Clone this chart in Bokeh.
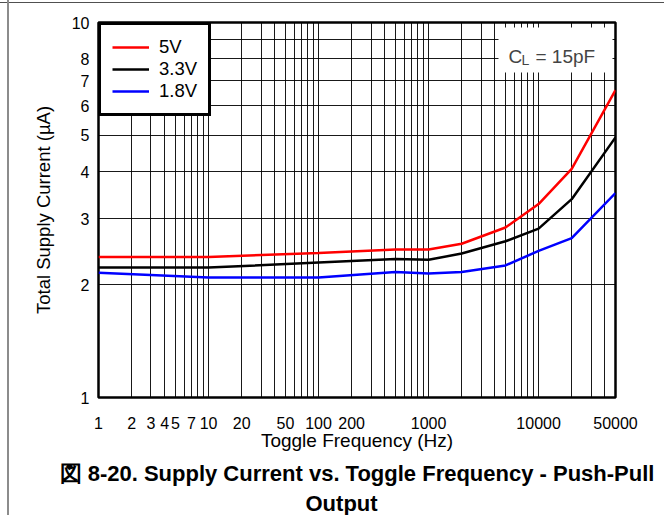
from bokeh.plotting import figure
from bokeh.models import (Range1d, FixedTicker, Legend, LegendItem, Label,
                          BoxAnnotation, Title)
from bokeh.embed import file_html
from bokeh.resources import INLINE

# ---- data ----
freq_hz = [1, 10, 100, 500, 1000, 2000, 5000, 10000, 20000, 50000]
current_5v = [2.37, 2.37, 2.43, 2.48, 2.48, 2.57, 2.84, 3.28, 4.07, 6.6]
current_3v3 = [2.22, 2.22, 2.29, 2.34, 2.33, 2.42, 2.61, 2.82, 3.38, 4.94]
current_1v8 = [2.15, 2.09, 2.09, 2.16, 2.14, 2.16, 2.25, 2.46, 2.66, 3.51]

series_labels = ["5V", "3.3V", "1.8V"]
series_colors = ["#ff0000", "#000000", "#0000ff"]

x_tick_values = [1, 2, 3, 4, 5, 7, 10, 20, 50, 100, 200, 1000, 10000, 50000]
x_tick_labels = ["1", "2", "3", "4", "5", "7", "10", "20", "50", "100", "200",
                 "1000", "10000", "50000"]
y_tick_values = [1, 2, 3, 4, 5, 6, 7, 8, 10]
y_tick_labels = ["1", "2", "3", "4", "5", "6", "7", "8", "10"]

x_grid = [m * 10 ** k for k in range(5) for m in range(1, 10) if m * 10 ** k < 50000]
y_grid = [2, 3, 4, 5, 6, 7, 8, 9]

x_title = "Toggle Frequency (Hz)"
y_title = "Total Supply Current (\u00b5A)"
caption_1 = "\u56f3 8-20. Supply Current vs. Toggle Frequency - Push-Pull"
caption_2 = "Output"

FONT = "Liberation Sans"

p = figure(width=664, height=515, x_axis_type="log", y_axis_type="log",
           x_range=Range1d(1, 50000), y_range=Range1d(1, 10),
           output_backend="svg", toolbar_location=None, title=None,
           min_border_left=98, min_border_right=49, min_border_top=22,
           min_border_bottom=118)

# page rules (gray lines at left and top of the page)
p.border_fill_alpha = 0
p.styles = {
    "background": ("linear-gradient(to right, rgba(0,0,0,0) 7px, #8c8c8c 7px, "
                   "#8c8c8c 9px, rgba(0,0,0,0) 9px), "
                   "linear-gradient(to bottom, rgba(0,0,0,0) 2px, #505050 2px, "
                   "#505050 3.5px, rgba(0,0,0,0) 3.5px), #ffffff"),
}

p.outline_line_color = "black"
p.outline_line_width = 2.5
p.outline_line_alpha = 1

# grids
p.xgrid.ticker = FixedTicker(ticks=x_grid)
p.ygrid.ticker = FixedTicker(ticks=y_grid)
for g in (p.xgrid, p.ygrid):
    g.grid_line_color = "black"
    g.grid_line_width = 1
    g.grid_line_alpha = 0.9

# axes
p.xaxis.ticker = FixedTicker(ticks=x_tick_values)
p.xaxis.major_label_overrides = dict(zip(x_tick_values, x_tick_labels))
p.yaxis.ticker = FixedTicker(ticks=y_tick_values)
p.yaxis.major_label_overrides = dict(zip(y_tick_values, y_tick_labels))
for ax in (p.xaxis, p.yaxis):
    ax.axis_line_color = None
    ax.major_tick_line_color = None
    ax.minor_tick_line_color = None
    ax.major_tick_out = 0
    ax.major_tick_in = 0
    ax.minor_tick_out = 0
    ax.minor_tick_in = 0
    ax.major_label_text_font = FONT
    ax.major_label_text_font_size = "16px"
    ax.major_label_text_color = "black"
    ax.axis_label_text_font = FONT
    ax.axis_label_text_font_style = "normal"
    ax.axis_label_text_color = "black"
p.xaxis.major_label_standoff = 19
p.yaxis.major_label_standoff = 9
p.xaxis.axis_label = x_title
p.xaxis.axis_label_text_font_size = "19px"
p.xaxis.axis_label_standoff = -2
p.yaxis.axis_label = y_title
p.yaxis.axis_label_text_font_size = "18.5px"
p.yaxis.axis_label_standoff = 15

# data lines
renderers = []
for ys, col in zip([current_5v, current_3v3, current_1v8], series_colors):
    r = p.line(freq_hz, ys, line_color=col, line_width=2.5)
    renderers.append(r)

legend = Legend(items=[LegendItem(label=lab, renderers=[r])
                       for lab, r in zip(series_labels, renderers)],
                location="top_left", margin=0, padding=11, spacing=0,
                label_height=22, glyph_height=22, glyph_width=37,
                label_standoff=10)
legend.border_line_color = "black"
legend.border_line_width = 3
legend.border_line_alpha = 1
legend.background_fill_color = "white"
legend.background_fill_alpha = 1
legend.label_text_font = FONT
legend.label_text_font_size = "18.5px"
legend.label_text_color = "black"
p.add_layout(legend)

# C_L = 15pF annotation box (screen units relative to the frame)
p.add_layout(BoxAnnotation(left=400, right=514, top=370, bottom=325,
                           left_units="screen", right_units="screen",
                           top_units="screen", bottom_units="screen",
                           fill_color="white", fill_alpha=1, line_color=None))
p.add_layout(Label(x=410, y=341, x_units="screen", y_units="screen", text="C",
                   text_font=FONT, text_font_size="19px", text_baseline="alphabetic"))
p.add_layout(Label(x=423, y=338, x_units="screen", y_units="screen", text="L",
                   text_font=FONT, text_font_size="14px", text_baseline="alphabetic"))
p.add_layout(Label(x=437, y=341, x_units="screen", y_units="screen", text="= 15pF",
                   text_font=FONT, text_font_size="19px", text_baseline="alphabetic"))

# caption (two lines below the axis)
p.add_layout(Title(text=caption_1, align="center", text_font=FONT,
                   text_font_size="22px", text_font_style="bold",
                   text_color="black", standoff=10), "below")
p.add_layout(Title(text=caption_2, align="left", offset=207, text_font=FONT,
                   text_font_size="22px", text_font_style="bold",
                   text_color="black", standoff=-4), "below")

open("out.html", "w").write(file_html(p, INLINE))
